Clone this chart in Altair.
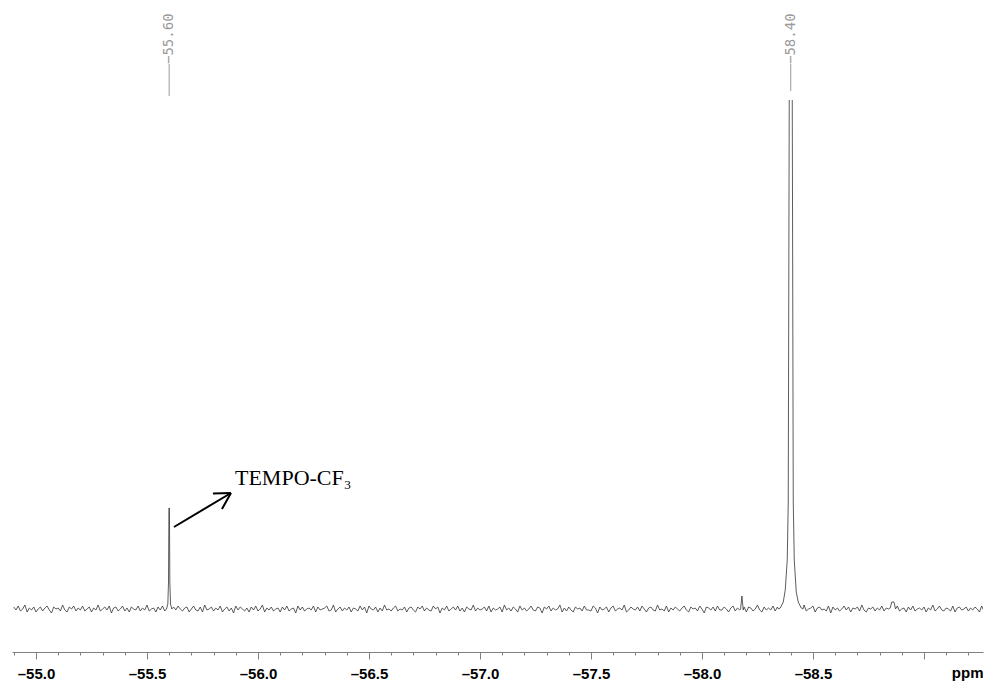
import altair as alt
import numpy as np
import pandas as pd

# ---------------- data ----------------
# baseline noise, sampled every 0.01 ppm starting at -54.90 ppm (intensity units = px above axis)
grid_start_ppm = -54.90
grid_step_ppm = 0.01
baseline_level = 43
noise_values = [
    2, -1, 3, -2, 0, 4, -3, 1, -1, 2,
    -3, 0, 2, -2, 1, 3, -1, -4, 2, 0,
    1, -2, 4, -1, -3, 2, 0, 3, -2, 1,
    -1, 3, -2, 0, 2, -3, 1, -1, 4, -2,
    0, 2, -1, 3, -4, 1, 2, -2, 0, 3,
    -2, 1, -3, 2, 0, -1, 3, -2, 1, -1,
    4, -2, 0, 1, -3, 2, -1, 3, -2, 0,
    1, -4, 2, -1, 3, 0, -2, 1, 2, -3,
    0, 3, -1, -2, 2, -3, 4, -1, 0, 2,
    -2, 1, -1, 3, -3, 0, 2, -2, 1, -4,
    3, -1, 2, 0, -2, 1, -3, 2, -1, 3,
    -2, 0, 4, -3, 1, -1, 2, -2, 0, 1,
    -3, 2, -1, 3, -2, 0, 1, -4, 3, -1,
    2, -2, 0, 1, -1, 3, -3, 2, -1, 0,
    1, 3, -2, -1, 4, -3, 0, 2, -2, 1,
    -1, 2, -3, 1, 0, -2, 3, -1, 2, -4,
    3, 0, -1, 2, -3, 1, -2, 4, -1, 0,
    -2, 1, 3, -2, 0, -1, 2, -3, 1, 2,
    -1, -3, 2, 0, 3, -2, 1, -1, -2, 3,
    0, 2, -4, 1, -1, 3, -2, 0, 2, -1,
    3, -2, 1, -3, 2, 0, -1, 4, -2, 1,
    -1, 0, 2, -2, 3, -3, 1, -1, 0, 2,
    -3, 4, -1, 1, -2, 2, 0, -3, 3, -1,
    1, -2, 0, 3, -1, -2, 2, 1, -4, 2,
    0, 3, -2, 1, -1, 0, 4, -3, 1, -2,
    2, -1, -3, 2, 0, 1, -2, 3, -1, -1,
    -2, 3, 1, -4, 2, -1, 0, 2, -3, 1,
    3, -2, 0, 1, -1, 4, -3, -1, 2, 0,
    -1, 2, -2, 3, 0, -3, 1, 2, -1, -2,
    4, -1, 0, -2, 3, -3, 1, -1, 2, 0,
    -2, 1, 3, -1, -3, 2, 0, 1, -2, 3,
    0, -4, 2, 1, -1, 2, -2, 3, -1, -1,
    2, 0, -3, 1, 3, -2, 1, -1, 0, 2,
    -3, 2, 1, -2, 0, 4, -1, -3, 2, -1,
    1, -1, 3, -2, 2, 0, -3, 1, -1, 3,
    -2, 2, 0, -1, 1, -3, 4, -2, 0, 1,
    3, -3, 1, 2, -1, 0, -2, 3, -4, 2,
    -1, 1, -2, 0, 3, -1, 2, -3, 1, 0,
    2, -2, 4, -1, -3, 1, 0, 2, -2, 1,
    -1, 3, -2, 1, 0, -4, 2, -1, 3, -2,
    0, 1, -3, 2, -1, 3, -2, 0, 1, -1,
    2, -3, 1, -1, 4, -2, 0, 3, -1, -2,
    1, 0, -2, 3, -3, 1, 2, -1, 0, 2,
    -2, 1, -1, 2, 0, -3, 3, -2, 1, 0,
]

# TEMPO-CF3 peak at -55.60 ppm
peak1_ppm = [-55.588, -55.594, -55.597, -55.599, -55.601, -55.603, -55.606, -55.612]
peak1_int = [43, 48, 70, 144, 144, 70, 48, 43]

# main peak at -58.40 ppm (runs off the top of the display)
peak2_ppm = [-58.345, -58.3527, -58.3662, -58.3752, -58.3842, -58.3887, -58.3932, -58.40,
             -58.4068, -58.4113, -58.4158, -58.4248, -58.4338, -58.4473, -58.455]
peak2_int = [43, 44, 50, 62, 92, 150, 552, 1500, 552, 150, 92, 60, 50, 44, 43]

# small features
spike_ppm = [-58.174, -58.180, -58.186]
spike_int = [43, 56, 42]
bump_ppm = [-58.848, -58.855, -58.865, -58.872]
bump_int = [44, 50, 50, 43]

# peak-pick labels
label_ppm = [-55.60, -58.40]
label_text = ["\u221255.60", "\u221258.40"]
label_start_int = [588, 588]
label_line_end_int = [556, 561]

# annotation
annot_text = ["TEMPO-CF\u2083"]
annot_ppm = [-55.8964]
annot_int = [167]
arrow_x1 = [-55.6216, -55.8784, -55.8784]
arrow_y1 = [125, 159, 159]
arrow_x2 = [-55.8784, -55.7973, -55.8378]
arrow_y2 = [159, 158.5, 143]

# axis ticks
major_ticks = [-55.0, -55.5, -56.0, -56.5, -57.0, -57.5, -58.0, -58.5, -59.0]
minor_ticks = [-54.9, -55.1, -55.2, -55.3, -55.4, -55.6, -55.7, -55.8, -55.9,
               -56.1, -56.2, -56.3, -56.4, -56.6, -56.7, -56.8, -56.9,
               -57.1, -57.2, -57.3, -57.4, -57.6, -57.7, -57.8, -57.9,
               -58.1, -58.2, -58.3, -58.4, -58.6, -58.7, -58.8, -58.9,
               -59.1, -59.2]

# ---------------- build tables ----------------
grid_ppm = [grid_start_ppm - i * grid_step_ppm for i in range(len(noise_values))]
rows = []
for p, n in zip(grid_ppm, noise_values):
    if abs(p - (-55.60)) < 0.015 or abs(p - (-58.40)) < 0.06:
        continue
    if abs(p - (-58.18)) < 0.008 or abs(p - (-58.86)) < 0.015:
        continue
    rows.append((p, baseline_level + n))
for ps, vs in [(peak1_ppm, peak1_int), (peak2_ppm, peak2_int),
               (spike_ppm, spike_int), (bump_ppm, bump_int)]:
    rows.extend(zip(ps, vs))
spec = pd.DataFrame(rows, columns=["ppm", "int"]).sort_values("ppm", ascending=False)

labels = pd.DataFrame({"ppm": label_ppm, "text": label_text,
                       "int": label_start_int, "int2": label_line_end_int})
annot = pd.DataFrame({"ppm": annot_ppm, "int": annot_int, "text": annot_text})
arrow = pd.DataFrame({"ppm": arrow_x1, "int": arrow_y1, "ppm2": arrow_x2, "int2": arrow_y2})

W, H = 971, 552
TOP = 100
xscale = alt.Scale(domain=[-59.266, -54.892], reverse=True, nice=False, zero=False)
yscale = alt.Scale(domain=[0, H], nice=False, zero=False)

major_test = "abs(datum.value*2 - round(datum.value*2)) < 0.001"
xaxis = alt.Axis(
    values=sorted(major_ticks + minor_ticks),
    tickSize={"condition": {"test": major_test, "value": 7}, "value": 3},
    labelExpr=f"({major_test}) && datum.value > -58.95 ? '\u2013' + format(-datum.value, '.1f') : ''",
    labelFont="Liberation Sans", labelFontWeight="bold", labelFontSize=15,
    labelColor="black", labelPadding=7, labelOverlap=False, labelFlush=False,
    domainColor="#808080", tickColor="#808080", domainWidth=1, tickWidth=1,
    grid=False,
    title="ppm", titleX=W, titleY=25, titleAlign="right", titleBaseline="alphabetic",
    titleFont="Liberation Sans", titleFontWeight="bold", titleFontSize=15, titleColor="black",
)

X = alt.X("ppm:Q", scale=xscale, axis=xaxis)
Y = alt.Y("int:Q", scale=yscale, axis=None)

line = alt.Chart(spec).mark_line(color="#333333", strokeWidth=0.8, clip=True).encode(x=X, y=Y)

lab_text = alt.Chart(labels).mark_text(
    angle=270, align="left", baseline="middle", font="DejaVu Sans Mono",
    fontSize=14, color="#9a9a9a"
).encode(x=X, y=Y, text="text:N")

lab_rule = alt.Chart(labels).mark_rule(color="#9a9a9a", strokeWidth=1).encode(
    x=X, y=Y, y2="int2:Q")

arrow_rule = alt.Chart(arrow).mark_rule(color="black", strokeWidth=2).encode(
    x=X, y=Y, x2="ppm2:Q", y2="int2:Q")

annot_text_layer = alt.Chart(annot).mark_text(
    align="left", baseline="alphabetic", font="Liberation Serif", fontSize=22, color="black"
).encode(x=X, y=Y, text="text:N")

chart = alt.layer(line, lab_rule, lab_text, arrow_rule, annot_text_layer).properties(
    width=W, height=H,
    padding={"left": 12, "top": TOP, "right": 4, "bottom": 30},
    autosize="none",
    background="white",
).configure_view(stroke=None)

chart.save("out.html", embed_options={"renderer": "svg", "actions": False})
